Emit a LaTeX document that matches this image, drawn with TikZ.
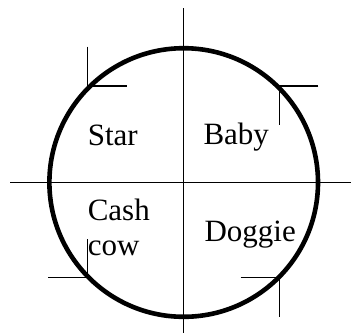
\documentclass[tikz,border=0pt]{standalone}
\usepackage{fontspec}
\setmainfont{Liberation Serif}
\begin{document}
\begin{tikzpicture}[x=1pt,y=-1pt,
  axis/.style={line width=1.3pt,black},
  ring/.style={line width=4.6pt,black},
  lbl/.style={inner sep=0pt,anchor=base west,font=\fontsize{31}{35}\selectfont}]
\useasboundingbox (0,0) rectangle (351,333);
% axes
\coordinate (top) at (183.7,8.3);
\coordinate (bot) at (183.7,333);
\coordinate (lft) at (10,182.4);
\coordinate (rgt) at (351,182.4);
\draw[axis] (top) -- (bot);
\draw[axis] (lft) -- (rgt);
% circle
\node[ring,draw,circle,minimum size=268.6pt,inner sep=0pt] (c) at (183.7,182.5) {};
% tick corners
\coordinate (tl) at (87.3,86);
\coordinate (tr) at (279.3,86);
\coordinate (bl) at (87.3,277.7);
\coordinate (br) at (279.3,277.7);
\coordinate (tlu) at (87.3,46.7);
\coordinate (tlr) at (126.7,86);
\coordinate (trr) at (318.3,86);
\coordinate (trd) at (279.3,125);
\coordinate (blu) at (87.3,239.3);
\coordinate (bll) at (48.3,277.7);
\coordinate (brl) at (240.7,277.7);
\coordinate (brd) at (279.3,316.7);
\draw[axis] (tlu) -- (tl) -- (tlr);
\draw[axis] (trr) -- (tr) -- (trd);
\draw[axis] (blu) -- (bl) -- (bll);
\draw[axis] (brl) -- (br) -- (brd);
% labels
\node[lbl] (star) at (87.6,145.5) {Star};
\node[lbl] (baby) at (203.3,144.6) {Baby};
\node[lbl] (cash) at (87.6,220.2) {Cash};
\node[lbl] (cow) at (87.6,255.5) {cow};
\node[lbl] (doggie) at (204.3,241.7) {Doggie};
\end{tikzpicture}
\end{document}
